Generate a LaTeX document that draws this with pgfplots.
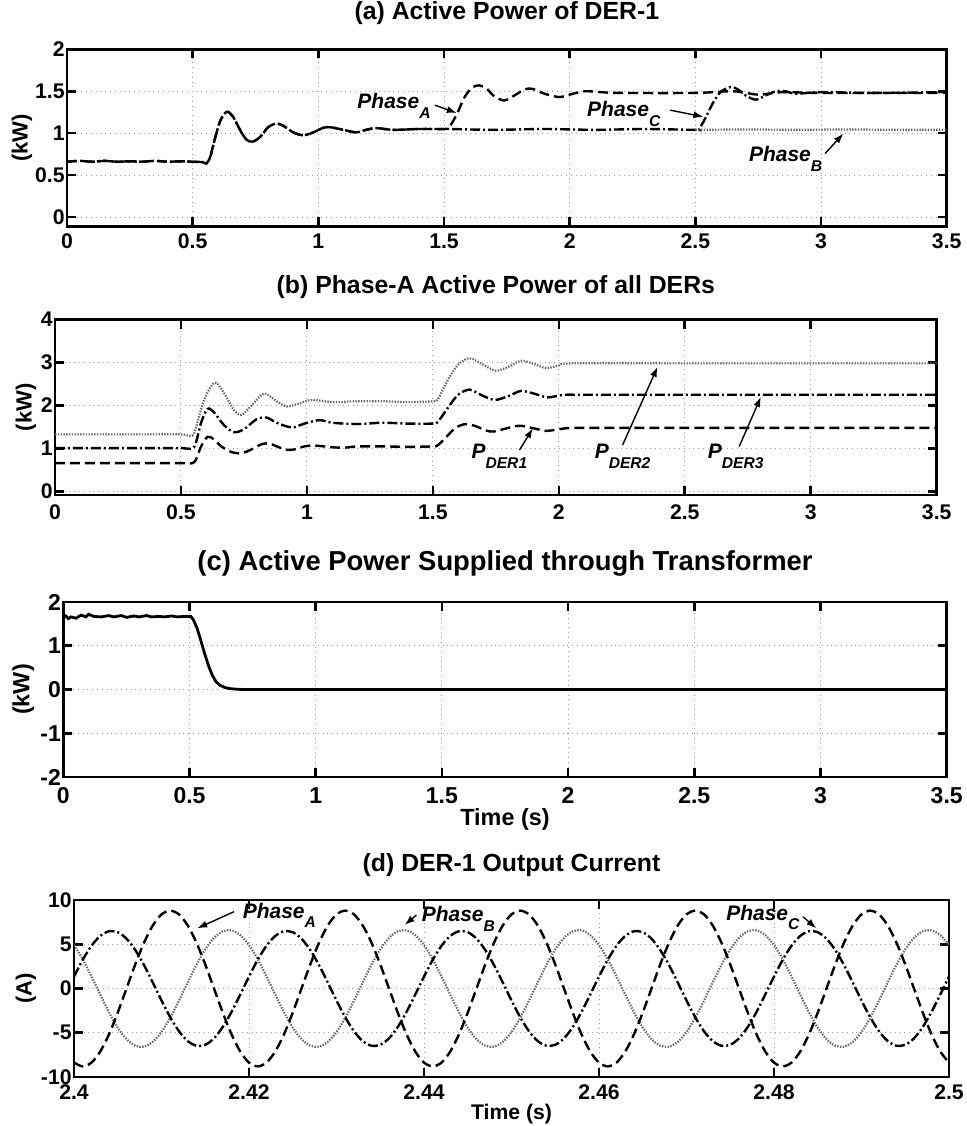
\documentclass[border=0pt]{standalone}
\usepackage{fontspec}
\setmainfont{Liberation Sans}
\usepackage{pgfplots}
\pgfplotsset{compat=1.18}
\usepackage{pgfplotstable}
\usetikzlibrary{arrows.meta}

\pgfplotstableread{
t A B C
2.400 -8.37 4.91 1.35
2.401 -8.8 3.3 3.25
2.402 -8.37 1.37 4.83
2.403 -7.12 -0.69 5.94
2.404 -5.17 -2.69 6.47
2.405 -2.72 -4.42 6.36
2.406 0 -5.72 5.63
2.407 2.72 -6.46 4.35
2.408 5.17 -6.57 2.65
2.409 7.12 -6.03 0.68
2.410 8.37 -4.91 -1.35
2.411 8.8 -3.3 -3.25
2.412 8.37 -1.37 -4.83
2.413 7.12 0.69 -5.94
2.414 5.17 2.69 -6.47
2.415 2.72 4.42 -6.36
2.416 0 5.72 -5.63
2.417 -2.72 6.46 -4.35
2.418 -5.17 6.57 -2.65
2.419 -7.12 6.03 -0.68
2.420 -8.37 4.91 1.35
2.421 -8.8 3.3 3.25
2.422 -8.37 1.37 4.83
2.423 -7.12 -0.69 5.94
2.424 -5.17 -2.69 6.47
2.425 -2.72 -4.42 6.36
2.426 0 -5.72 5.63
2.427 2.72 -6.46 4.35
2.428 5.17 -6.57 2.65
2.429 7.12 -6.03 0.68
2.430 8.37 -4.91 -1.35
2.431 8.8 -3.3 -3.25
2.432 8.37 -1.37 -4.83
2.433 7.12 0.69 -5.94
2.434 5.17 2.69 -6.47
2.435 2.72 4.42 -6.36
2.436 0 5.72 -5.63
2.437 -2.72 6.46 -4.35
2.438 -5.17 6.57 -2.65
2.439 -7.12 6.03 -0.68
2.440 -8.37 4.91 1.35
2.441 -8.8 3.3 3.25
2.442 -8.37 1.37 4.83
2.443 -7.12 -0.69 5.94
2.444 -5.17 -2.69 6.47
2.445 -2.72 -4.42 6.36
2.446 0 -5.72 5.63
2.447 2.72 -6.46 4.35
2.448 5.17 -6.57 2.65
2.449 7.12 -6.03 0.68
2.450 8.37 -4.91 -1.35
2.451 8.8 -3.3 -3.25
2.452 8.37 -1.37 -4.83
2.453 7.12 0.69 -5.94
2.454 5.17 2.69 -6.47
2.455 2.72 4.42 -6.36
2.456 0 5.72 -5.63
2.457 -2.72 6.46 -4.35
2.458 -5.17 6.57 -2.65
2.459 -7.12 6.03 -0.68
2.460 -8.37 4.91 1.35
2.461 -8.8 3.3 3.25
2.462 -8.37 1.37 4.83
2.463 -7.12 -0.69 5.94
2.464 -5.17 -2.69 6.47
2.465 -2.72 -4.42 6.36
2.466 0 -5.72 5.63
2.467 2.72 -6.46 4.35
2.468 5.17 -6.57 2.65
2.469 7.12 -6.03 0.68
2.470 8.37 -4.91 -1.35
2.471 8.8 -3.3 -3.25
2.472 8.37 -1.37 -4.83
2.473 7.12 0.69 -5.94
2.474 5.17 2.69 -6.47
2.475 2.72 4.42 -6.36
2.476 0 5.72 -5.63
2.477 -2.72 6.46 -4.35
2.478 -5.17 6.57 -2.65
2.479 -7.12 6.03 -0.68
2.480 -8.37 4.91 1.35
2.481 -8.8 3.3 3.25
2.482 -8.37 1.37 4.83
2.483 -7.12 -0.69 5.94
2.484 -5.17 -2.69 6.47
2.485 -2.72 -4.42 6.36
2.486 0 -5.72 5.63
2.487 2.72 -6.46 4.35
2.488 5.17 -6.57 2.65
2.489 7.12 -6.03 0.68
2.490 8.37 -4.91 -1.35
2.491 8.8 -3.3 -3.25
2.492 8.37 -1.37 -4.83
2.493 7.12 0.69 -5.94
2.494 5.17 2.69 -6.47
2.495 2.72 4.42 -6.36
2.496 0 5.72 -5.63
2.497 -2.72 6.46 -4.35
2.498 -5.17 6.57 -2.65
2.499 -7.12 6.03 -0.68
2.500 -8.37 4.91 1.35
}\currents

\tikzset{
  dsh/.style={black, line width=1.2pt, dash pattern=on 5pt off 2.5pt},
  dsd/.style={black, line width=1.2pt, dash pattern=on 5pt off 1.5pt on 1pt off 1.5pt},
  dtt/.style={black!60, line width=1.1pt, dash pattern=on 0.7pt off 0.7pt},
  lab/.style={font=\fontsize{10.5}{12}\selectfont\bfseries\itshape, inner sep=0pt},
  arr/.style={-{Latex[length=5pt,width=3.5pt]}, line width=0.7pt, black},
}
\pgfplotsset{
  myax/.style={
    scale only axis,
    anchor=north west,
    axis line style={line width=1.3pt},
    every tick/.style={line width=1.3pt, black},
    major tick length=4.5pt,
    grid=major,
    major grid style={dotted, line width=0.5pt, gray!75},
    /pgf/number format/assume math mode=true,
    tick label style={font=\fontsize{10.6}{12}\selectfont\bfseries},
    yticklabel style={anchor=east, inner sep=0pt, xshift=-1pt},
    xticklabel style={anchor=base, inner sep=0pt, yshift=-11.2pt},
    title style={at={(0.5,1)}, anchor=base, font=\fontsize{12.4}{14}\selectfont\bfseries},
    ylabel style={anchor=center, font=\fontsize{11}{13}\selectfont\bfseries},
    xlabel style={at={(axis description cs:0.5,0)}, anchor=base, font=\fontsize{10.6}{12}\selectfont\bfseries},
  },
}
\newcommand{\sub}[1]{\raisebox{-4.8pt}{\fontsize{7.8}{9}\selectfont #1}}

\begin{document}
\begin{tikzpicture}
\useasboundingbox (0,0) rectangle (483pt,-563pt);

% ---------------- (a)
\begin{axis}[myax, at={(33.5pt,-24.65pt)}, width=439.85pt, height=88.5pt,
  xmin=0, xmax=3.5, ymin=-0.11, ymax=2,
  xtick={0,0.5,1,1.5,2,2.5,3,3.5}, ytick={0,0.5,1,1.5,2},
  title={(a) Active Power of DER-1}, title style={yshift=8.9pt},
  ylabel={(kW)}, ylabel style={at={(axis description cs:-0.0512,0.5)}}]
\addplot[dsd, smooth] coordinates {
(0,0.66)(0.05,0.67)(0.1,0.66)(0.15,0.67)(0.2,0.66)(0.25,0.665)(0.3,0.66)(0.35,0.67)(0.4,0.66)(0.45,0.665)(0.5,0.66)(0.54,0.655)(0.555,0.64)(0.57,0.72)(0.59,0.95)(0.61,1.15)(0.635,1.255)(0.66,1.2)(0.69,1.03)(0.715,0.92)(0.74,0.9)(0.77,0.96)(0.8,1.07)(0.83,1.115)(0.86,1.09)(0.9,1.01)(0.94,0.975)(0.98,1.01)(1.02,1.065)(1.05,1.07)(1.1,1.04)(1.15,1.01)(1.19,1.04)(1.23,1.06)(1.3,1.04)(1.4,1.05)(1.5,1.05)(1.52,1.05)(1.7,1.04)(1.9,1.05)(2.1,1.04)(2.3,1.05)(2.5,1.04)(2.515,1.05)(2.54,1.18)(2.57,1.36)(2.6,1.49)(2.64,1.55)(2.67,1.52)(2.7,1.45)(2.74,1.40)(2.78,1.45)(2.82,1.5)(2.86,1.5)(2.9,1.47)(3.0,1.49)(3.2,1.48)(3.5,1.49)};
\addplot[dsh, smooth] coordinates {
(0,0.66)(0.05,0.67)(0.1,0.66)(0.15,0.67)(0.2,0.66)(0.25,0.665)(0.3,0.66)(0.35,0.67)(0.4,0.66)(0.45,0.665)(0.5,0.66)(0.54,0.655)(0.555,0.64)(0.57,0.72)(0.59,0.95)(0.61,1.15)(0.635,1.255)(0.66,1.2)(0.69,1.03)(0.715,0.92)(0.74,0.9)(0.77,0.96)(0.8,1.07)(0.83,1.115)(0.86,1.09)(0.9,1.01)(0.94,0.975)(0.98,1.01)(1.02,1.065)(1.05,1.07)(1.1,1.04)(1.15,1.01)(1.19,1.04)(1.23,1.06)(1.3,1.04)(1.4,1.05)(1.5,1.05)(1.52,1.07)(1.55,1.22)(1.58,1.42)(1.61,1.54)(1.64,1.57)(1.67,1.53)(1.7,1.44)(1.74,1.39)(1.78,1.45)(1.82,1.52)(1.85,1.53)(1.9,1.47)(1.96,1.43)(2.0,1.46)(2.06,1.5)(2.12,1.49)(2.2,1.48)(2.5,1.48)(2.65,1.5)(2.75,1.46)(2.85,1.49)(3.0,1.48)(3.5,1.48)};
\addplot[dtt] coordinates {
(2.5,1.04)(2.7,1.045)(2.9,1.04)(3.1,1.045)(3.3,1.04)(3.5,1.04)};
\node[lab, anchor=base west] at (axis cs:1.154,1.295) {Phase\sub{A}};
\draw[arr] (axis cs:1.464,1.334) -- (axis cs:1.551,1.24);
\node[lab, anchor=base west] at (axis cs:2.068,1.195) {Phase\sub{C}};
\draw[arr] (axis cs:2.4,1.275) -- (axis cs:2.532,1.195);
\node[lab, anchor=base west] at (axis cs:2.712,0.657) {Phase\sub{B}};
\draw[arr] (axis cs:3.016,0.757) -- (axis cs:3.089,0.996);
\end{axis}

% ---------------- (b)
\begin{axis}[myax, at={(27.5pt,-159.75pt)}, width=440.85pt, height=87.75pt,
  xmin=0, xmax=3.5, ymin=-0.08, ymax=4,
  xtick={0,0.5,1,1.5,2,2.5,3,3.5}, ytick={0,1,2,3,4},
  xticklabel style={yshift=-1.1pt},
  title={(b) Phase-A Active Power of all DERs}, title style={yshift=7.25pt},
  ylabel={(kW)}, ylabel style={at={(axis description cs:-0.0329,0.5)}}]
\addplot[dsh, smooth] coordinates {
(0,0.66)(0.1,0.66)(0.2,0.66)(0.3,0.66)(0.4,0.66)(0.5,0.66)(0.545,0.66)(0.56,0.75)(0.58,1.05)(0.605,1.27)(0.63,1.22)(0.66,1.05)(0.7,0.92)(0.74,0.89)(0.78,0.98)(0.82,1.1)(0.85,1.12)(0.88,1.05)(0.92,0.97)(0.95,0.98)(0.99,1.05)(1.03,1.07)(1.1,1.03)(1.15,1.02)(1.2,1.05)(1.3,1.05)(1.4,1.04)(1.5,1.05)(1.52,1.08)(1.55,1.25)(1.59,1.48)(1.63,1.57)(1.67,1.52)(1.71,1.42)(1.74,1.395)(1.78,1.45)(1.82,1.51)(1.85,1.53)(1.9,1.47)(1.95,1.41)(1.99,1.44)(2.05,1.48)(2.2,1.48)(2.5,1.48)(3.0,1.48)(3.5,1.48)};
\addplot[dsd, smooth] coordinates {
(0,1.01)(0.1,1.01)(0.2,1.01)(0.3,1.01)(0.4,1.01)(0.5,1.01)(0.545,1.0)(0.56,1.15)(0.58,1.6)(0.605,1.92)(0.63,1.85)(0.67,1.55)(0.71,1.38)(0.75,1.45)(0.8,1.68)(0.84,1.72)(0.88,1.6)(0.94,1.49)(0.99,1.58)(1.05,1.66)(1.1,1.6)(1.2,1.57)(1.3,1.6)(1.4,1.58)(1.5,1.58)(1.52,1.62)(1.56,1.95)(1.6,2.25)(1.645,2.37)(1.69,2.25)(1.745,2.13)(1.8,2.22)(1.85,2.34)(1.9,2.28)(1.956,2.19)(2.02,2.25)(2.1,2.25)(2.5,2.25)(3.0,2.25)(3.5,2.25)};
\addplot[dtt, smooth] coordinates {
(0,1.33)(0.1,1.33)(0.2,1.33)(0.3,1.33)(0.4,1.33)(0.5,1.33)(0.545,1.3)(0.56,1.5)(0.59,2.1)(0.62,2.45)(0.64,2.53)(0.67,2.3)(0.71,1.9)(0.74,1.78)(0.78,2.0)(0.82,2.25)(0.84,2.27)(0.88,2.1)(0.92,1.98)(0.97,2.05)(1.02,2.13)(1.1,2.08)(1.2,2.1)(1.3,2.1)(1.4,2.08)(1.5,2.1)(1.52,2.15)(1.56,2.6)(1.6,2.95)(1.645,3.1)(1.7,2.95)(1.75,2.81)(1.8,2.9)(1.85,3.04)(1.9,2.97)(1.95,2.87)(2.0,2.93)(2.05,2.98)(2.5,2.98)(3.0,2.98)(3.5,2.98)};
\node[lab, anchor=base west] at (axis cs:1.652,0.767) {P\sub{DER1}};
\draw[arr] (axis cs:1.844,0.967) -- (axis cs:1.897,1.47);
\node[lab, anchor=base west] at (axis cs:2.141,0.767) {P\sub{DER2}};
\draw[arr] (axis cs:2.253,1.08) -- (axis cs:2.392,2.9);
\node[lab, anchor=base west] at (axis cs:2.59,0.767) {P\sub{DER3}};
\draw[arr] (axis cs:2.716,1.047) -- (axis cs:2.802,2.2);
\end{axis}

% ---------------- (c)
\begin{axis}[myax, at={(31.65pt,-301pt)}, width=441.7pt, height=87.5pt,
  xmin=0, xmax=3.5, ymin=-2, ymax=2,
  xtick={0,0.5,1,1.5,2,2.5,3,3.5}, ytick={-2,-1,0,1,2},
  tick label style={font=\fontsize{11.5}{13}\selectfont\bfseries},
  xticklabel style={yshift=-2pt},
  title={(c) Active Power Supplied through Transformer},
  title style={yshift=9.75pt, font=\fontsize{13.7}{16}\selectfont\bfseries},
  xlabel={Time (s)}, xlabel style={yshift=-24pt, font=\fontsize{11.7}{13}\selectfont\bfseries},
  ylabel={(kW)}, ylabel style={at={(axis description cs:-0.0453,0.5)}, font=\fontsize{11.7}{13}\selectfont\bfseries}]
\addplot[black, line width=1.4pt] coordinates {
(0,1.64)(0.01,1.68)(0.02,1.62)(0.03,1.66)(0.05,1.63)(0.07,1.7)(0.09,1.66)(0.1,1.72)(0.12,1.67)(0.15,1.66)(0.18,1.69)(0.2,1.66)(0.23,1.69)(0.25,1.65)(0.28,1.68)(0.3,1.66)(0.33,1.69)(0.35,1.66)(0.38,1.67)(0.4,1.66)(0.43,1.68)(0.45,1.66)(0.48,1.67)(0.505,1.67)(0.515,1.6)(0.53,1.4)(0.545,1.12)(0.56,0.82)(0.575,0.55)(0.59,0.33)(0.605,0.18)(0.62,0.1)(0.64,0.045)(0.66,0.02)(0.69,0.005)(0.72,0)(3.5,0)};
\end{axis}

% ---------------- (d)
\begin{axis}[myax, at={(37pt,-450pt)}, width=437.5pt, height=88.5pt,
  xmin=2.4, xmax=2.5, ymin=-10, ymax=10,
  xtick={2.4,2.42,2.44,2.46,2.48,2.5}, ytick={-10,-5,0,5,10},
  title={(d) DER-1 Output Current}, title style={yshift=8.5pt},
  xlabel={Time (s)}, xlabel style={yshift=-21pt},
  ylabel={(A)}, ylabel style={at={(axis description cs:-0.0549,0.5)}}]
\addplot[dtt, smooth] table[x=t, y=B] {\currents};
\addplot[dsd, smooth] table[x=t, y=C] {\currents};
\addplot[dsh, smooth] table[x=t, y=A] {\currents};
\node[lab, anchor=base west] at (axis cs:2.41924,7.93) {Phase\sub{A}};
\draw[arr] (axis cs:2.41828,8.68) -- (axis cs:2.41408,6.8);
\node[lab, anchor=base west] at (axis cs:2.4397,7.55) {Phase\sub{B}};
\draw[arr] (axis cs:2.43913,8.3) -- (axis cs:2.43779,7.18);
\node[lab, anchor=base west] at (axis cs:2.4745,7.74) {Phase\sub{C}};
\draw[arr] (axis cs:2.48331,8.11) -- (axis cs:2.48484,6.8);
\end{axis}
\end{tikzpicture}
\end{document}
